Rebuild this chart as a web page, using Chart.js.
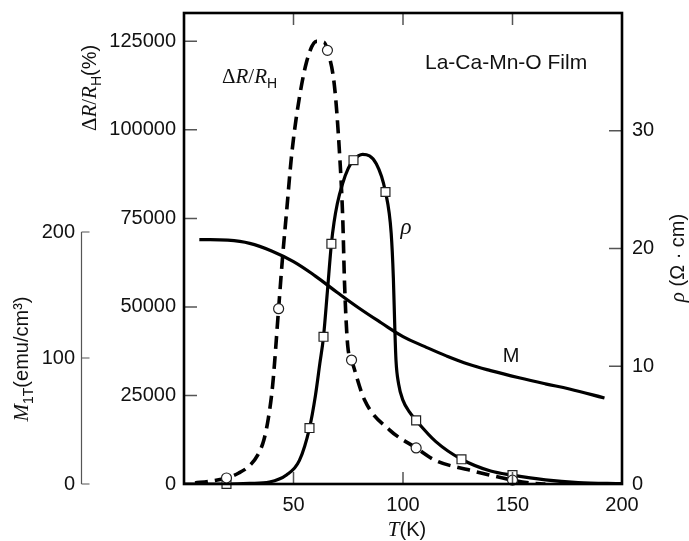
<!DOCTYPE html>
<html>
<head>
<meta charset="utf-8">
<script src="https://cdn.jsdelivr.net/npm/chart.js@4.4.1/dist/chart.umd.min.js"></script>
<style>
  html, body { margin: 0; padding: 0; background: #fff; }
  canvas { display: block; }
</style>
</head>
<body>
<canvas id="chart" width="689" height="541"></canvas>
<script>
// Magnetization M_1T (emu/cm3) vs T
const tempM = [7, 20, 30, 40, 50, 60, 70, 80, 90, 100, 110, 120, 130, 140, 153, 165, 176, 192];
const magM  = [194, 193.5, 191, 185, 176.5, 165, 152, 139.5, 128, 117, 109, 101.5, 95, 90, 84.3, 79.5, 75.4, 68.3];

// Resistivity rho (Ohm cm) vs T, curve + square markers
const tempRho = [0, 10, 20, 30, 39, 46.8, 52.7, 57.3, 60, 62, 63.7, 65.5, 67.3, 68.5, 70, 72.4, 75, 77.4, 81.6, 87.8, 92, 94.6, 95.6, 96.3, 96.8, 98, 100, 103, 106, 115, 126.7, 140, 150, 165, 180, 200];
const rho     = [0, 0, 0, 0.05, 0.17, 0.76, 2, 4.75, 7.5, 10.2, 12.5, 16.4, 20.4, 22.2, 23.8, 25.5, 26.8, 27.5, 28, 27.2, 24.8, 21.3, 17.5, 13, 10.5, 8.5, 7.1, 6.1, 5.4, 3.6, 2.1, 1.1, 0.75, 0.35, 0.12, 0.03];
const tempRhoMarks = [19.4, 57.3, 63.7, 67.3, 77.4, 92, 106, 126.7, 150];
const rhoMarks     = [0, 4.75, 12.5, 20.4, 27.5, 24.8, 5.4, 2.1, 0.75];

// Magnetoresistance dR/R_H (%) vs T, dashed curve + circle markers
const tempMR = [5, 12, 19.4, 25, 30, 33.5, 36.5, 38.5, 40.5, 43.2, 45, 47, 49, 51.4, 55.9, 60.5, 64, 65.5, 68.7, 71, 72.5, 73.3, 74.8, 76.5, 82.4, 93.8, 106, 115, 130, 150, 158, 165];
const mrVals = [300, 800, 1700, 3100, 5200, 8000, 12500, 18500, 28000, 49500, 64000, 78000, 92000, 104000, 119000, 125000, 124700, 122450, 112400, 93600, 74700, 56800, 38800, 35000, 23800, 15300, 10180, 6600, 4000, 1100, 300, 0];
const tempMRMarks = [19.4, 43.2, 65.5, 76.5, 106, 150];
const mrMarks     = [1700, 49500, 122450, 35000, 10180, 1100];

// Tick labels
const xTickVals = [50, 100, 150, 200];
const leftTickVals = [0, 25000, 50000, 75000, 100000, 125000];
const rightTickVals = [0, 10, 20, 30];
const mTickVals = [0, 100, 200];

const pts = (xs, ys) => xs.map((x, i) => ({ x: x, y: ys[i] }));
const setTicks = vals => s => { s.ticks = vals.map(v => ({ value: v })); };
const fitTo = (w, h) => s => {
    if (w) s.width = w;
    if (h) s.height = h;
    s.paddingTop = 0; s.paddingBottom = 0; s.paddingLeft = 0; s.paddingRight = 0;
};
const tickFont = { family: "Liberation Sans", size: 20 };
const noGrid = { display: false, drawTicks: false };

const SERIF_I = 'italic 21px "Liberation Serif"';
const SERIF = '21px "Liberation Serif"';
const SANS = '20px "Liberation Sans"';
const SUB = '14px "Liberation Sans"';

// draw text made of parts (different fonts / subscripts)
function drawParts(ctx, parts, x, y, angle, align) {
    ctx.save();
    let total = 0;
    parts.forEach(p => { ctx.font = p.font; p.w = ctx.measureText(p.t).width; total += p.w; });
    ctx.translate(x, y);
    ctx.rotate(angle);
    let cx = align === "left" ? 0 : -total / 2;
    ctx.textBaseline = "alphabetic";
    ctx.textAlign = "left";
    ctx.fillStyle = "#111";
    parts.forEach(p => {
        ctx.font = p.font;
        ctx.fillText(p.t, cx, p.dy || 0);
        cx += p.w;
    });
    ctx.restore();
}

const decorPlugin = {
    id: "decor",
    beforeDraw(chart) {
        const ctx = chart.ctx;
        ctx.save();
        ctx.fillStyle = "#fff";
        ctx.fillRect(0, 0, chart.width, chart.height);
        ctx.restore();
    },
    afterDraw(chart) {
        const ctx = chart.ctx;
        const a = chart.chartArea;
        const sx = chart.scales.x, sl = chart.scales.yL, sr = chart.scales.yR, sm = chart.scales.yM;
        ctx.save();

        // inner tick marks
        ctx.strokeStyle = "#555";
        ctx.lineWidth = 1.5;
        ctx.beginPath();
        xTickVals.forEach(v => {
            if (v <= sx.min || v >= sx.max) return;
            const px = sx.getPixelForValue(v);
            ctx.moveTo(px, a.bottom); ctx.lineTo(px, a.bottom - 12);
            ctx.moveTo(px, a.top); ctx.lineTo(px, a.top + 12);
        });
        leftTickVals.forEach(v => {
            if (v <= 0) return;
            const py = sl.getPixelForValue(v);
            ctx.moveTo(a.left, py); ctx.lineTo(a.left + 13, py);
        });
        rightTickVals.forEach(v => {
            if (v <= 0) return;
            const py = sr.getPixelForValue(v);
            ctx.moveTo(a.right, py); ctx.lineTo(a.right - 13, py);
        });
        ctx.stroke();

        // frame
        ctx.strokeStyle = "#000";
        ctx.lineWidth = 2.6;
        ctx.strokeRect(a.left, a.top, a.right - a.left, a.bottom - a.top);

        // separate M axis
        const mx = 81.5;
        ctx.strokeStyle = "#555";
        ctx.lineWidth = 1.2;
        ctx.beginPath();
        ctx.moveTo(mx, sm.getPixelForValue(0));
        ctx.lineTo(mx, sm.getPixelForValue(200));
        mTickVals.forEach(v => {
            const py = sm.getPixelForValue(v);
            ctx.moveTo(mx, py); ctx.lineTo(mx + 8, py);
        });
        ctx.stroke();
        ctx.restore();

        // axis titles
        drawParts(ctx, [
            { t: "\u0394", font: SERIF }, { t: "R", font: SERIF_I }, { t: "/", font: SERIF },
            { t: "R", font: SERIF_I }, { t: "H", font: SUB, dy: 5 }, { t: "(%)", font: SANS }
        ], 96, 88, -Math.PI / 2);
        drawParts(ctx, [
            { t: "M", font: SERIF_I }, { t: "1T", font: SUB, dy: 5 }, { t: "(emu/cm\u00B3)", font: SANS }
        ], 28, 359, -Math.PI / 2);
        drawParts(ctx, [
            { t: "\u03C1", font: SERIF_I }, { t: " (\u03A9 \u00B7 cm)", font: SANS }
        ], 684, 258, -Math.PI / 2);
        drawParts(ctx, [
            { t: "T", font: SERIF_I }, { t: "(K)", font: SANS }
        ], 407, 536, 0);

        // annotations
        drawParts(ctx, [
            { t: "\u0394", font: SERIF }, { t: "R", font: SERIF_I }, { t: "/", font: SERIF },
            { t: "R", font: SERIF_I }, { t: "H", font: SUB, dy: 5 }
        ], 222, 83, 0, "left");
        drawParts(ctx, [{ t: "\u03C1", font: 'italic 23px "Liberation Serif"' }], 406, 234, 0);
        drawParts(ctx, [{ t: "M", font: SANS }], 511, 362, 0);
        drawParts(ctx, [{ t: "La-Ca-Mn-O Film", font: '21px "Liberation Sans"' }], 425, 69, 0, "left");
    }
};

const chart = new Chart(document.getElementById("chart"), {
    type: "line",
    data: {
        datasets: [
            {
                data: pts(tempMRMarks, mrMarks), yAxisID: "yL", showLine: false, clip: false,
                pointStyle: "circle", pointRadius: 5, pointBackgroundColor: "#fff",
                pointBorderColor: "#222", pointBorderWidth: 1.2
            },
            {
                data: pts(tempRhoMarks, rhoMarks), yAxisID: "yR", showLine: false, clip: false,
                pointStyle: "rect", pointRadius: 6.3, pointBackgroundColor: "#fff",
                pointBorderColor: "#222", pointBorderWidth: 1.2
            },
            {
                data: pts(tempMR, mrVals), yAxisID: "yL", borderColor: "#000", borderWidth: 3.6,
                borderDash: [13, 7], pointRadius: 0, cubicInterpolationMode: "monotone", fill: false
            },
            {
                data: pts(tempRho, rho), yAxisID: "yR", borderColor: "#000", borderWidth: 3.2,
                pointRadius: 0, cubicInterpolationMode: "monotone", fill: false
            },
            {
                data: pts(tempM, magM), yAxisID: "yM", borderColor: "#000", borderWidth: 3.2,
                pointRadius: 0, tension: 0.4, fill: false
            }
        ]
    },
    options: {
        responsive: false,
        animation: false,
        devicePixelRatio: 1,
        layout: { padding: { top: 13, left: 0, right: 0, bottom: 0 } },
        plugins: { legend: { display: false }, tooltip: { enabled: false } },
        scales: {
            x: {
                type: "linear", min: 0, max: 200,
                grid: noGrid, border: { display: false },
                afterBuildTicks: setTicks(xTickVals),
                afterFit: fitTo(0, 57),
                ticks: { font: tickFont, color: "#111", padding: 9, maxRotation: 0, callback: v => String(v) }
            },
            yL: {
                position: "left", min: 0, max: 133000, weight: 0,
                grid: noGrid, border: { display: false },
                afterBuildTicks: setTicks(leftTickVals),
                afterFit: fitTo(84, 0),
                ticks: { font: tickFont, color: "#111", padding: 8, callback: v => String(v) }
            },
            yM: {
                position: "left", min: 0, max: 200 * 471 / 252, weight: 1,
                grid: noGrid, border: { display: false },
                afterBuildTicks: setTicks(mTickVals),
                afterFit: fitTo(100, 0),
                ticks: { font: tickFont, color: "#111", padding: 25, callback: v => String(v) }
            },
            yR: {
                position: "right", min: 0, max: 40,
                grid: noGrid, border: { display: false },
                afterBuildTicks: setTicks(rightTickVals),
                afterFit: fitTo(67, 0),
                ticks: { font: tickFont, color: "#111", padding: 10, callback: v => String(v) }
            }
        }
    },
    plugins: [decorPlugin]
});
</script>
</body>
</html>
